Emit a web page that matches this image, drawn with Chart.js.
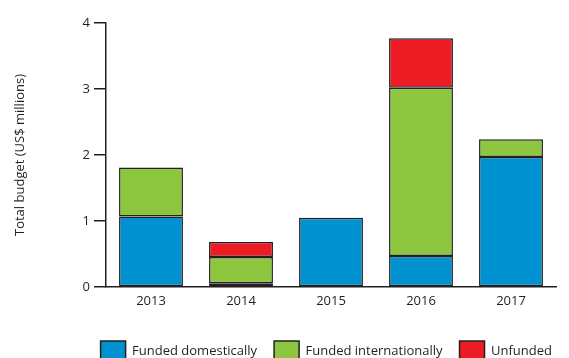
<!DOCTYPE html>
<html>
<head>
<meta charset="utf-8">
<script src="https://cdn.jsdelivr.net/npm/chart.js@4"></script>
<style>
  html, body { margin: 0; padding: 0; background: #fff; overflow: hidden; }
  #clip { width: 569px; height: 358px; overflow: hidden; }
  #wrap { width: 569px; height: 371px; }
</style>
</head>
<body>
<div id="clip"><div id="wrap"><canvas id="budget"></canvas></div></div>
<script>
// Budget by year, US$ millions, split by funding source (null = no segment)
const years = ['2013', '2014', '2015', '2016', '2017'];
const fundedDomestically = [1.07, 0.055, 1.05, 0.47, 1.97];
const fundedInternationally = [0.74, 0.40, null, 2.55, 0.27];
const unfunded = [null, 0.225, null, 0.75, null];
const yTicks = [0, 1, 2, 3, 4];

const FONT = "'Open Sans', sans-serif";
const INK = '#231f20';

const bar = (label, data, color) => ({
  label, data, backgroundColor: color, borderColor: INK, borderWidth: 1.5,
  borderSkipped: false, barPercentage: 0.71, categoryPercentage: 1,
});

new Chart(document.getElementById('budget'), {
  type: 'bar',
  data: {
    labels: years,
    datasets: [
      bar('Funded domestically', fundedDomestically, '#0091d0'),
      bar('Funded internationally', fundedInternationally, '#8dc63f'),
      bar('Unfunded', unfunded, '#ed1c24'),
    ],
  },
  options: {
    responsive: true, maintainAspectRatio: false, animation: false,
    layout: { padding: { left: 0, right: 0, top: 23, bottom: 0 } },
    plugins: {
      tooltip: { enabled: false },
      legend: {
        position: 'bottom', align: 'end',
        labels: {
          color: INK, font: { family: FONT, size: 13 },
          boxWidth: 25, boxHeight: 20, padding: 17,
        },
      },
    },
    scales: {
      x: {
        stacked: true,
        grid: { display: false, drawTicks: false },
        border: { color: INK, width: 1.5 },
        ticks: { color: INK, font: { family: FONT, size: 13 }, padding: 6 },
        afterFit: (s) => { s.height = 37; },
      },
      y: {
        stacked: true, min: 0, max: 4,
        afterBuildTicks: (s) => { s.ticks = yTicks.map((v) => ({ value: v })); },
        grid: { drawOnChartArea: false, color: INK, lineWidth: 1.5, tickLength: 12 },
        border: { color: INK, width: 1.5 },
        ticks: { color: INK, font: { family: FONT, size: 13 }, padding: 4 },
        title: {
          display: true, text: 'Total budget (US$ millions)',
          color: INK, font: { family: FONT, size: 13 }, padding: { top: 12, bottom: 0 },
        },
        afterFit: (s) => { s.width = 106; },
      },
      // empty right-hand gutter so the x axis stops short of the edge
      gutter: {
        position: 'right', min: 0, max: 4,
        grid: { display: false }, border: { display: false }, ticks: { display: false },
        afterFit: (s) => { s.width = 13; },
      },
    },
  },
});
</script>
</body>
</html>
